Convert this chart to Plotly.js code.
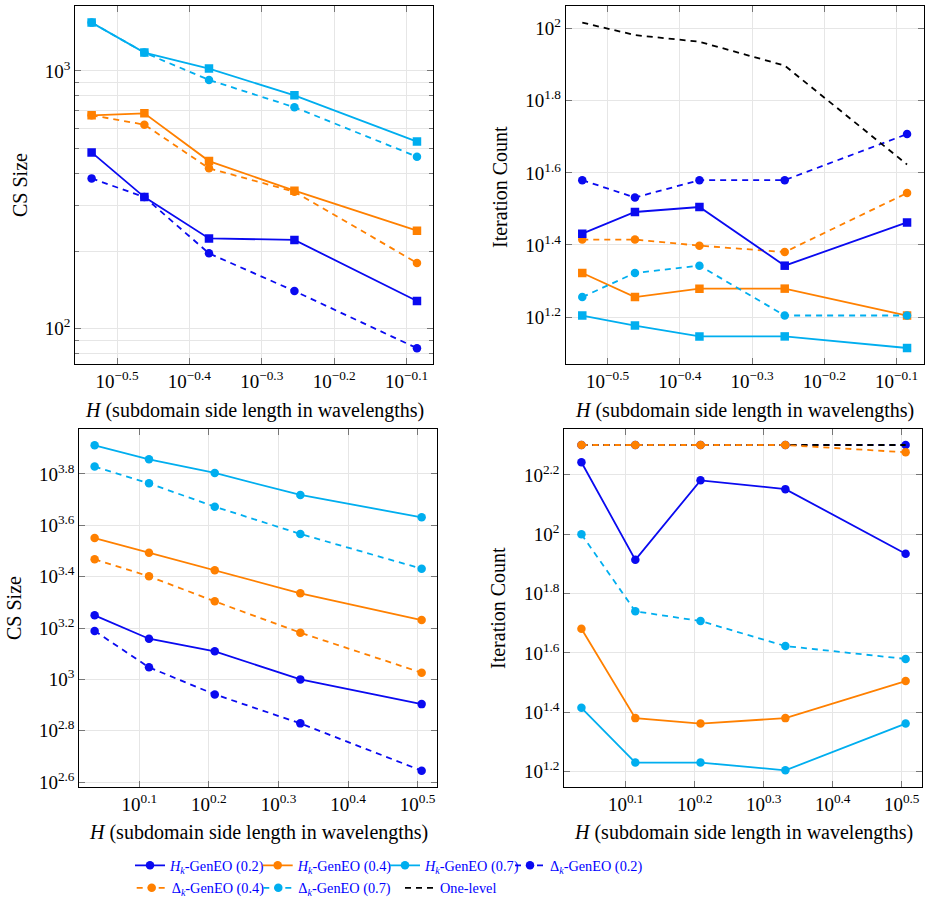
<!DOCTYPE html>
<html>
<head>
<meta charset="utf-8">
<script src="https://cdn.plot.ly/plotly-3.0.1.min.js"></script>
<style>html,body{margin:0;padding:0;background:#fff;}#chart{width:931px;height:904px;}</style>
</head>
<body>
<div id="chart"></div>
<script>
// ---------------- data ----------------
const H_top = [0.2917, 0.345, 0.4237, 0.556, 0.821];
const H_bot = [1.086, 1.30, 1.616, 2.145, 3.204];

// top-left: CS size
const csTop_H02 = [483, 324, 224, 221, 128];
const csTop_H04 = [673, 685, 447, 343, 240];
const csTop_H07 = [1540, 1178, 1021, 804, 532];
const csTop_D02 = [383, 324, 196, 140, 84];
const csTop_D04 = [673, 619, 419, 340, 180];
const csTop_D07 = [1540, 1178, 923, 723, 465];

// top-right: iteration count
const itTop_One = [104, 96, 92, 79, 42];
const itTop_H02 = [27, 31, 32, 22, 29];
const itTop_H04 = [21, 18, 19, 19, 16];
const itTop_H07 = [16, 15, 14, 14, 13];
const itTop_D02 = [38, 34, 38, 38, 51];
const itTop_D04 = [26, 26, 25, 24, 35];
const itTop_D07 = [18, 21, 22, 16, 16];

// bottom-left: CS size
const csBot_H02 = [1776, 1440, 1286, 1000, 801];
const csBot_H04 = [3553, 3115, 2659, 2163, 1703];
const csBot_H07 = [8161, 7194, 6367, 5226, 4278];
const csBot_D02 = [1543, 1114, 874, 674, 441];
const csBot_D04 = [2935, 2520, 2013, 1520, 1062];
const csBot_D07 = [6741, 5801, 4707, 3683, 2699];

// bottom-right: iteration count
const itBot_One = [200, 200, 200, 200, 200];
const itBot_H02 = [175, 82, 152, 142, 86];
const itBot_H04 = [48, 24, 23, 24, 32];
const itBot_H07 = [26, 17, 17, 16, 23];
const itBot_D02 = [200, 200, 200, 200, 200];
const itBot_D04 = [200, 200, 200, 200, 189];
const itBot_D07 = [100, 55, 51, 42, 38];

// tick labels
const xTopVals = [-0.5, -0.4, -0.3, -0.2, -0.1];
const xTopText = ['10<sup>\u22120.5</sup>', '10<sup>\u22120.4</sup>', '10<sup>\u22120.3</sup>', '10<sup>\u22120.2</sup>', '10<sup>\u22120.1</sup>'];
const xBotVals = [0.1, 0.2, 0.3, 0.4, 0.5];
const xBotText = ['10<sup>0.1</sup>', '10<sup>0.2</sup>', '10<sup>0.3</sup>', '10<sup>0.4</sup>', '10<sup>0.5</sup>'];
const yTLVals = [2, 3];
const yTLText = ['10<sup>2</sup>', '10<sup>3</sup>'];
const yTLMinor = [80, 90, 200, 300, 400, 500, 600, 700, 800, 900];
const yTRVals = [1.2, 1.4, 1.6, 1.8, 2];
const yTRText = ['10<sup>1.2</sup>', '10<sup>1.4</sup>', '10<sup>1.6</sup>', '10<sup>1.8</sup>', '10<sup>2</sup>'];
const yBLVals = [2.6, 2.8, 3, 3.2, 3.4, 3.6, 3.8];
const yBLText = ['10<sup>2.6</sup>', '10<sup>2.8</sup>', '10<sup>3</sup>', '10<sup>3.2</sup>', '10<sup>3.4</sup>', '10<sup>3.6</sup>', '10<sup>3.8</sup>'];
const yBRVals = [1.2, 1.4, 1.6, 1.8, 2, 2.2];
const yBRText = ['10<sup>1.2</sup>', '10<sup>1.4</sup>', '10<sup>1.6</sup>', '10<sup>1.8</sup>', '10<sup>2</sup>', '10<sup>2.2</sup>'];

const names = {
  H02: '<i>H<sub>k</sub></i>-GenEO (0.2)',
  H04: '<i>H<sub>k</sub></i>-GenEO (0.4)',
  H07: '<i>H<sub>k</sub></i>-GenEO (0.7)',
  D02: '\u0394<sub><i>k</i></sub>-GenEO (0.2)',
  D04: '\u0394<sub><i>k</i></sub>-GenEO (0.4)',
  D07: '\u0394<sub><i>k</i></sub>-GenEO (0.7)',
  One: 'One-level'
};

// ---------------- styles ----------------
const FONT = 'Liberation Serif, DejaVu Serif, serif';
const C_BLUE = '#0a0af0';
const C_ORANGE = '#ff8000';
const C_CYAN = '#00aeef';
const DASH = '6px,5px';
const style = {
  H02: {color: C_BLUE, dash: 'solid'},
  H04: {color: C_ORANGE, dash: 'solid'},
  H07: {color: C_CYAN, dash: 'solid'},
  D02: {color: C_BLUE, dash: DASH},
  D04: {color: C_ORANGE, dash: DASH},
  D07: {color: C_CYAN, dash: DASH},
  One: {color: '#000000', dash: DASH}
};
const legendOf = {H02: 'legend', H04: 'legend2', H07: 'legend3', D02: 'legend4', D04: 'legend5', D07: 'legend6', One: 'legend7'};

function tr(key, x, y, xa, ya, squares, showlegend) {
  const st = style[key];
  const isOne = key === 'One';
  const sym = (squares && key[0] === 'H') ? 'square' : 'circle';
  return {
    type: 'scatter', x: x, y: y, xaxis: xa, yaxis: ya,
    mode: isOne ? 'lines' : 'lines+markers',
    name: names[key],
    line: {color: st.color, width: 1.8, dash: st.dash},
    marker: {symbol: sym, size: 8.5, color: st.color, line: {width: 0}},
    showlegend: showlegend, legend: legendOf[key],
    hoverinfo: 'skip'
  };
}

const order = ['D02', 'One', 'D04', 'H02', 'H04', 'D07', 'H07'];
const panels = [
  {xa: 'x', ya: 'y', X: H_top, sq: true, leg: false, d: {H02: csTop_H02, H04: csTop_H04, H07: csTop_H07, D02: csTop_D02, D04: csTop_D04, D07: csTop_D07}},
  {xa: 'x2', ya: 'y2', X: H_top, sq: true, leg: false, d: {One: itTop_One, H02: itTop_H02, H04: itTop_H04, H07: itTop_H07, D02: itTop_D02, D04: itTop_D04, D07: itTop_D07}},
  {xa: 'x3', ya: 'y3', X: H_bot, sq: false, leg: false, d: {H02: csBot_H02, H04: csBot_H04, H07: csBot_H07, D02: csBot_D02, D04: csBot_D04, D07: csBot_D07}},
  {xa: 'x4', ya: 'y4', X: H_bot, sq: false, leg: true, d: {One: itBot_One, H02: itBot_H02, H04: itBot_H04, H07: itBot_H07, D02: itBot_D02, D04: itBot_D04, D07: itBot_D07}}
];
const data = [];
panels.forEach(p => {
  order.forEach(k => {
    if (p.d[k]) data.push(tr(k, p.X, p.d[k], p.xa, p.ya, p.sq, p.leg));
  });
});

// ---------------- layout ----------------
const W = 931, HGT = 904;
const px = v => v / W;
const py = v => 1 - v / HGT;

function axis(extra) {
  return Object.assign({
    type: 'log', showline: true, linecolor: '#000', linewidth: 1, mirror: 'ticks',
    ticks: 'inside', ticklen: 6, tickwidth: 1, tickcolor: '#777',
    showgrid: true, gridcolor: '#e6e6e6', gridwidth: 1, zeroline: false,
    tickmode: 'array', automargin: false, fixedrange: true,
    tickfont: {family: FONT, size: 19, color: '#000'}
  }, extra);
}
const pow10 = arr => arr.map(v => Math.pow(10, v));

const layout = {
  width: W, height: HGT,
  margin: {l: 0, r: 0, t: 0, b: 0},
  paper_bgcolor: '#fff', plot_bgcolor: '#fff',
  font: {family: FONT, size: 19, color: '#000'},
  xaxis: axis({domain: [px(75.3), px(433.3)], anchor: 'y', range: [-0.5576, -0.0631], tickvals: pow10(xTopVals), ticktext: xTopText}),
  yaxis: axis({domain: [py(364), py(6)], anchor: 'x', range: [1.863, 3.252], tickvals: pow10(yTLVals), ticktext: yTLText,
    minor: {tickmode: 'array', tickvals: yTLMinor, showgrid: true, gridcolor: '#e6e6e6', ticks: 'inside', ticklen: 4, tickcolor: '#777'}}),
  xaxis2: axis({domain: [px(565.7), px(924)], anchor: 'y2', range: [-0.558, -0.0622], tickvals: pow10(xTopVals), ticktext: xTopText}),
  yaxis2: axis({domain: [py(364), py(6)], anchor: 'x2', range: [1.0696, 2.063], tickvals: pow10(yTRVals), ticktext: yTRText}),
  xaxis3: axis({domain: [px(79.3), px(437.3)], anchor: 'y3', range: [0.0138, 0.5282], tickvals: pow10(xBotVals), ticktext: xBotText}),
  yaxis3: axis({domain: [py(786.7), py(429.3)], anchor: 'x3', range: [2.582, 3.974], tickvals: pow10(yBLVals), ticktext: yBLText}),
  xaxis4: axis({domain: [px(564.3), px(921.7)], anchor: 'y4', range: [0.011, 0.529], tickvals: pow10(xBotVals), ticktext: xBotText}),
  yaxis4: axis({domain: [py(786.7), py(429.3)], anchor: 'x4', range: [1.149, 2.354], tickvals: pow10(yBRVals), ticktext: yBRText}),
  annotations: [],
  showlegend: true
};

const xt = '<i>H</i> (subdomain side length in wavelengths)';
const titles = [
  {t: xt, x: 254.5, y: 410, a: 0},
  {t: xt, x: 744, y: 410, a: 0},
  {t: xt, x: 258, y: 832, a: 0},
  {t: xt, x: 743.3, y: 832, a: 0},
  {t: 'CS Size', x: 20, y: 185, a: -90},
  {t: 'Iteration Count', x: 500, y: 187, a: -90},
  {t: 'CS Size', x: 14, y: 608, a: -90},
  {t: 'Iteration Count', x: 498, y: 608, a: -90}
];
titles.forEach(o => layout.annotations.push({
  text: o.t, xref: 'paper', yref: 'paper', x: px(o.x), y: py(o.y),
  xanchor: 'center', yanchor: 'middle', showarrow: false, textangle: o.a,
  font: {family: FONT, size: 20, color: '#000'}
}));

// legends: one per entry, placed by text start position
const legPos = {
  legend: [170, 865.5], legend2: [297.7, 865.5], legend3: [425, 865.5], legend4: [550, 865.5],
  legend5: [171.7, 888], legend6: [298.3, 888], legend7: [440, 888]
};
Object.keys(legPos).forEach(k => {
  const [tx, ty] = legPos[k];
  layout[k] = {
    x: px(tx - 40), y: py(ty), xanchor: 'left', yanchor: 'middle', orientation: 'h',
    bgcolor: 'rgba(0,0,0,0)', borderwidth: 0, itemwidth: 30,
    font: {family: FONT, size: 14.3, color: '#0000ff'}
  };
});

Plotly.newPlot('chart', data, layout, {staticPlot: true, displayModeBar: false});
</script>
</body>
</html>
